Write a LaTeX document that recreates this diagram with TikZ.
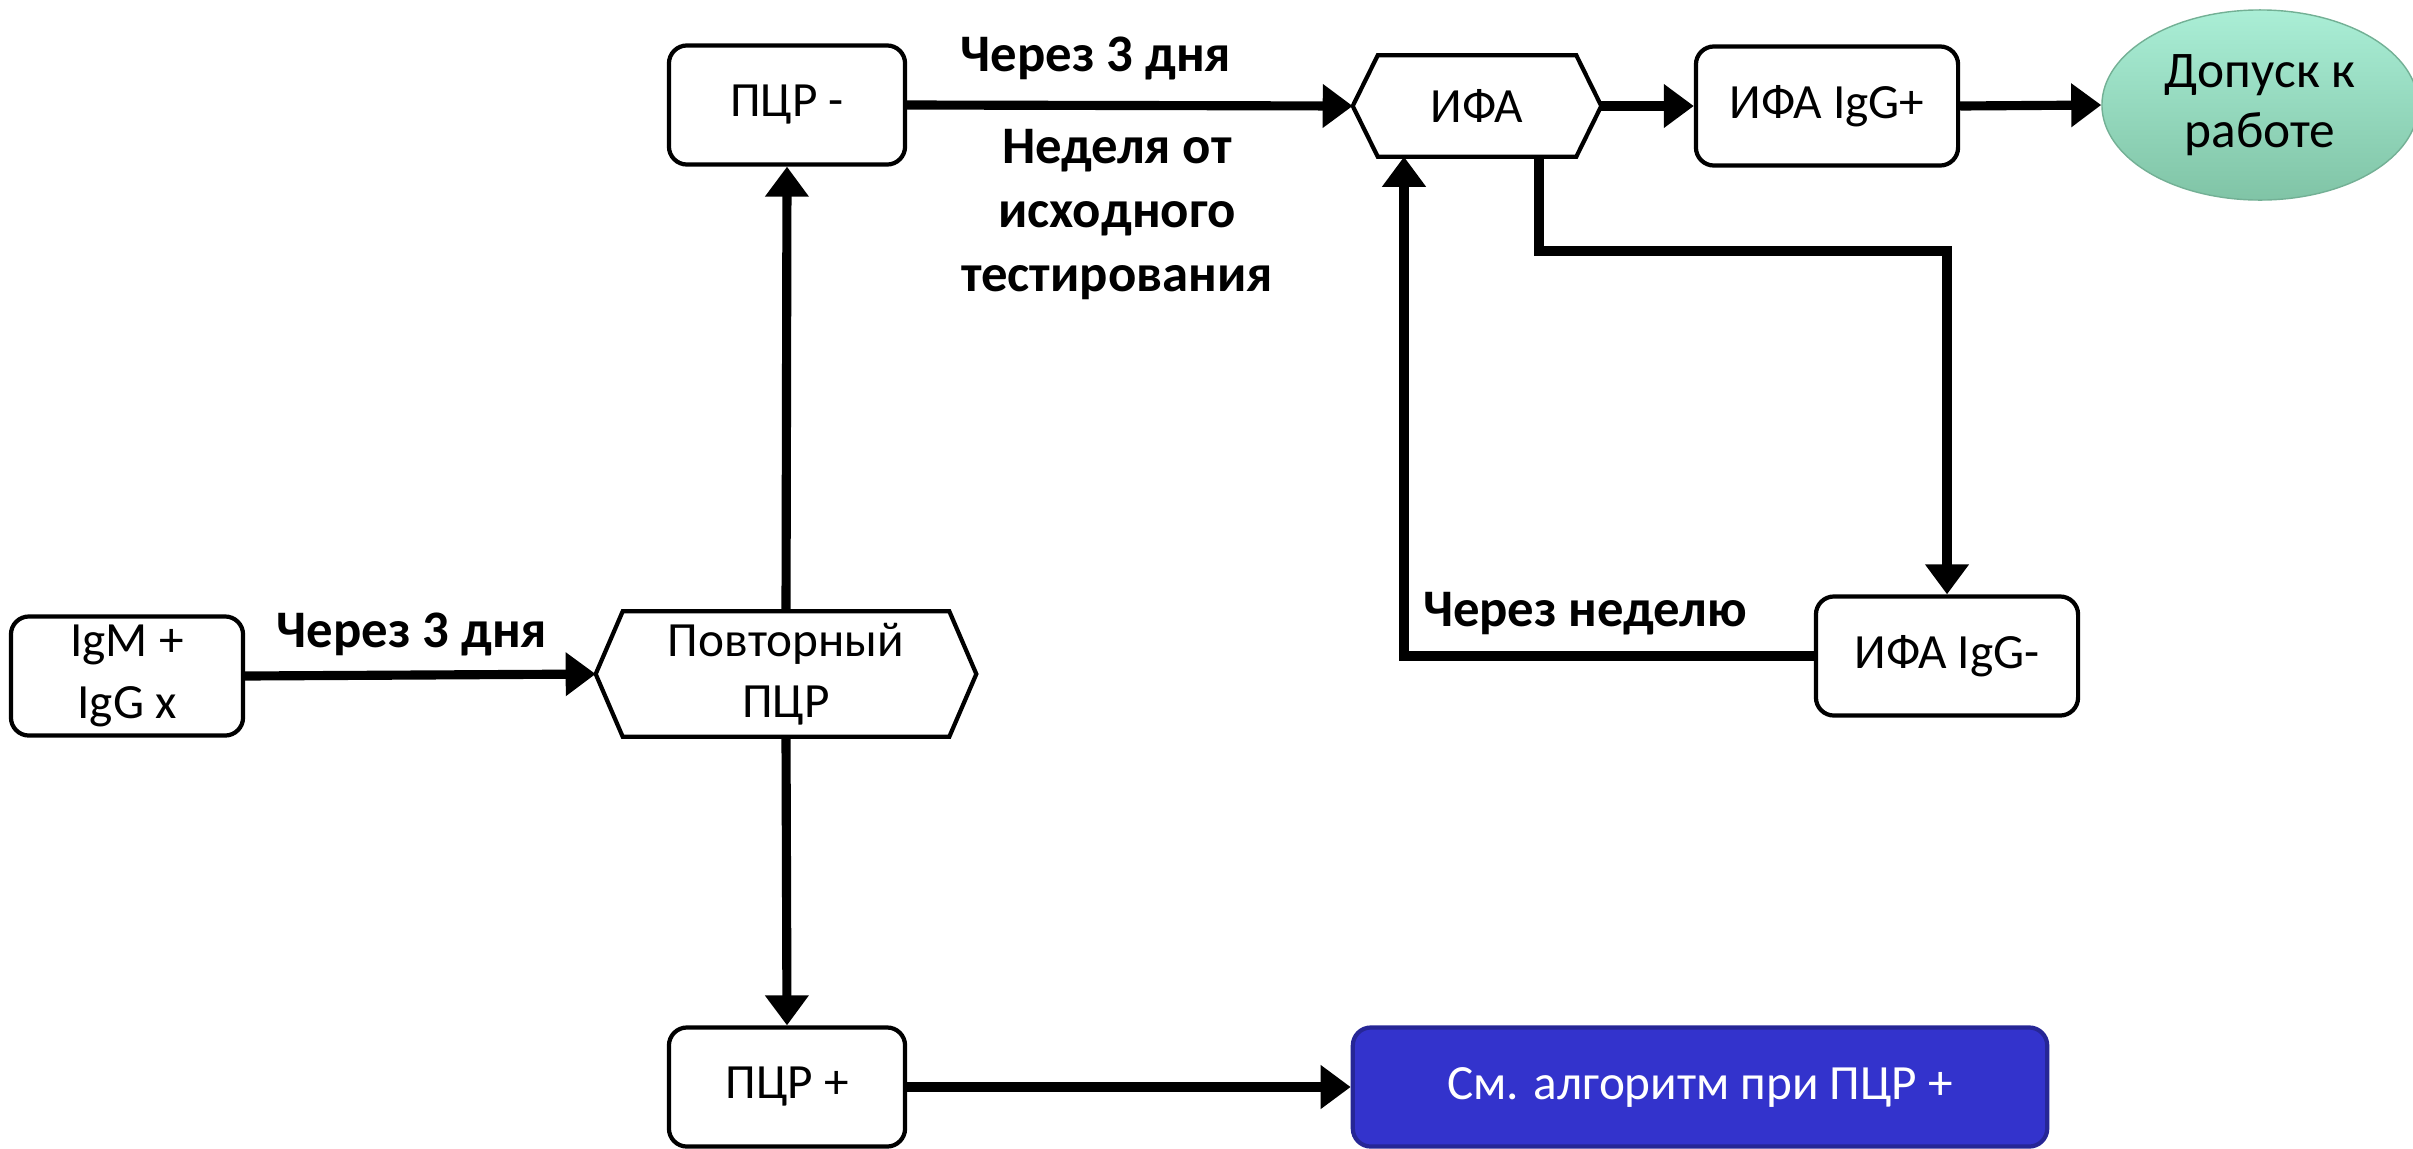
\documentclass[tikz,border=0pt]{standalone}
\usepackage{fontspec}
\setmainfont{Carlito}
\usetikzlibrary{arrows.meta,calc,shapes.geometric}
\definecolor{mintTop}{RGB}{170,238,214}
\definecolor{mintBot}{RGB}{128,196,166}
\definecolor{blueFill}{RGB}{51,51,204}
\definecolor{blueEdge}{RGB}{38,38,150}
\begin{document}
\begin{tikzpicture}[x=0.01cm,y=-0.01cm,
  every node/.style={font=\fontsize{14}{17.5}\selectfont, align=center},
  box/.style={draw, line width=1.2pt, rounded corners=0.18cm, minimum height=1.19cm, inner sep=2pt},
  hexbody/.style={minimum height=1.24cm, inner sep=0pt},
  hexline/.style={draw, line width=1.2pt, line join=miter},
  conn/.style={line width=2.6pt, -{Triangle[length=0.3cm,width=0.42cm]}},
  lbl/.style={font=\fontsize{15}{18.2}\selectfont\bfseries}
]
\useasboundingbox (0,0) rectangle (2413,1148);

% nodes
\node[box, minimum width=2.32cm] (igm) at (127,676) {IgM +\\IgG x};
\node[hexbody, minimum width=3.79cm] (rep) at (786,674) {Повторный\\ПЦР};
\draw[hexline] (rep.west) -- ([xshift=0.27cm]rep.north west) -- ([xshift=-0.27cm]rep.north east) -- (rep.east) -- ([xshift=-0.27cm]rep.south east) -- ([xshift=0.27cm]rep.south west) -- cycle;
\node[box, minimum width=2.36cm] (pm) at (787,105) {ПЦР -};
\node[box, minimum width=2.36cm] (pp) at (787,1087) {ПЦР +};
\node[box, minimum width=6.94cm, fill=blueFill, draw=blueEdge, text=white] (alg) at (1700,1087) {См. алгоритм при ПЦР +};
\node[hexbody, minimum width=2.47cm, minimum height=1.0cm] (ifa) at (1477,106) {ИФА};
\draw[hexline] (ifa.west) -- ([xshift=0.25cm]ifa.north west) -- ([xshift=-0.25cm]ifa.north east) -- (ifa.east) -- ([xshift=-0.25cm]ifa.south east) -- ([xshift=0.25cm]ifa.south west) -- cycle;
\node[box, minimum width=2.62cm] (igp) at (1827,106) {ИФА IgG+};
\node[ellipse, minimum width=3.16cm, minimum height=1.9cm, inner sep=0pt, top color=mintTop, bottom color=mintBot, draw=mintBot!90!black, line width=0.4pt, font=\fontsize{14.6}{17}\selectfont] (ok) at (2260,105) {Допуск к\\работе};
\node[box, minimum width=2.62cm] (ign) at (1947,656) {ИФА IgG-};

% labels
\node[lbl] (l1) at (412,634) {Через 3 дня};
\node[lbl] (l2) at (1096,58) {Через 3 дня};
\node[lbl] (l3) at (1117,215) {Неделя от\\исходного\\тестирования};
\node[lbl] (l4) at (1585,614) {Через неделю};

% connectors
\draw[conn] (igm.east) -- (rep.west);
\draw[conn] (rep.north) -- (pm.south);
\draw[conn] (rep.south) -- (pp.north);
\draw[conn] (pp.east) -- (alg.west);
\draw[conn] (pm.east) -- (ifa.west);
\draw[conn] (ifa.east) -- (igp.west);
\draw[conn] (igp.east) -- (ok.west);
\coordinate (t1) at (1539,251);
\draw[conn] (ifa.south -| t1) -- (t1) -| (ign.north);
\coordinate (t2) at (1404,655);
\draw[conn] (ign.west) -| (ifa.south -| t2);
\end{tikzpicture}
\end{document}
